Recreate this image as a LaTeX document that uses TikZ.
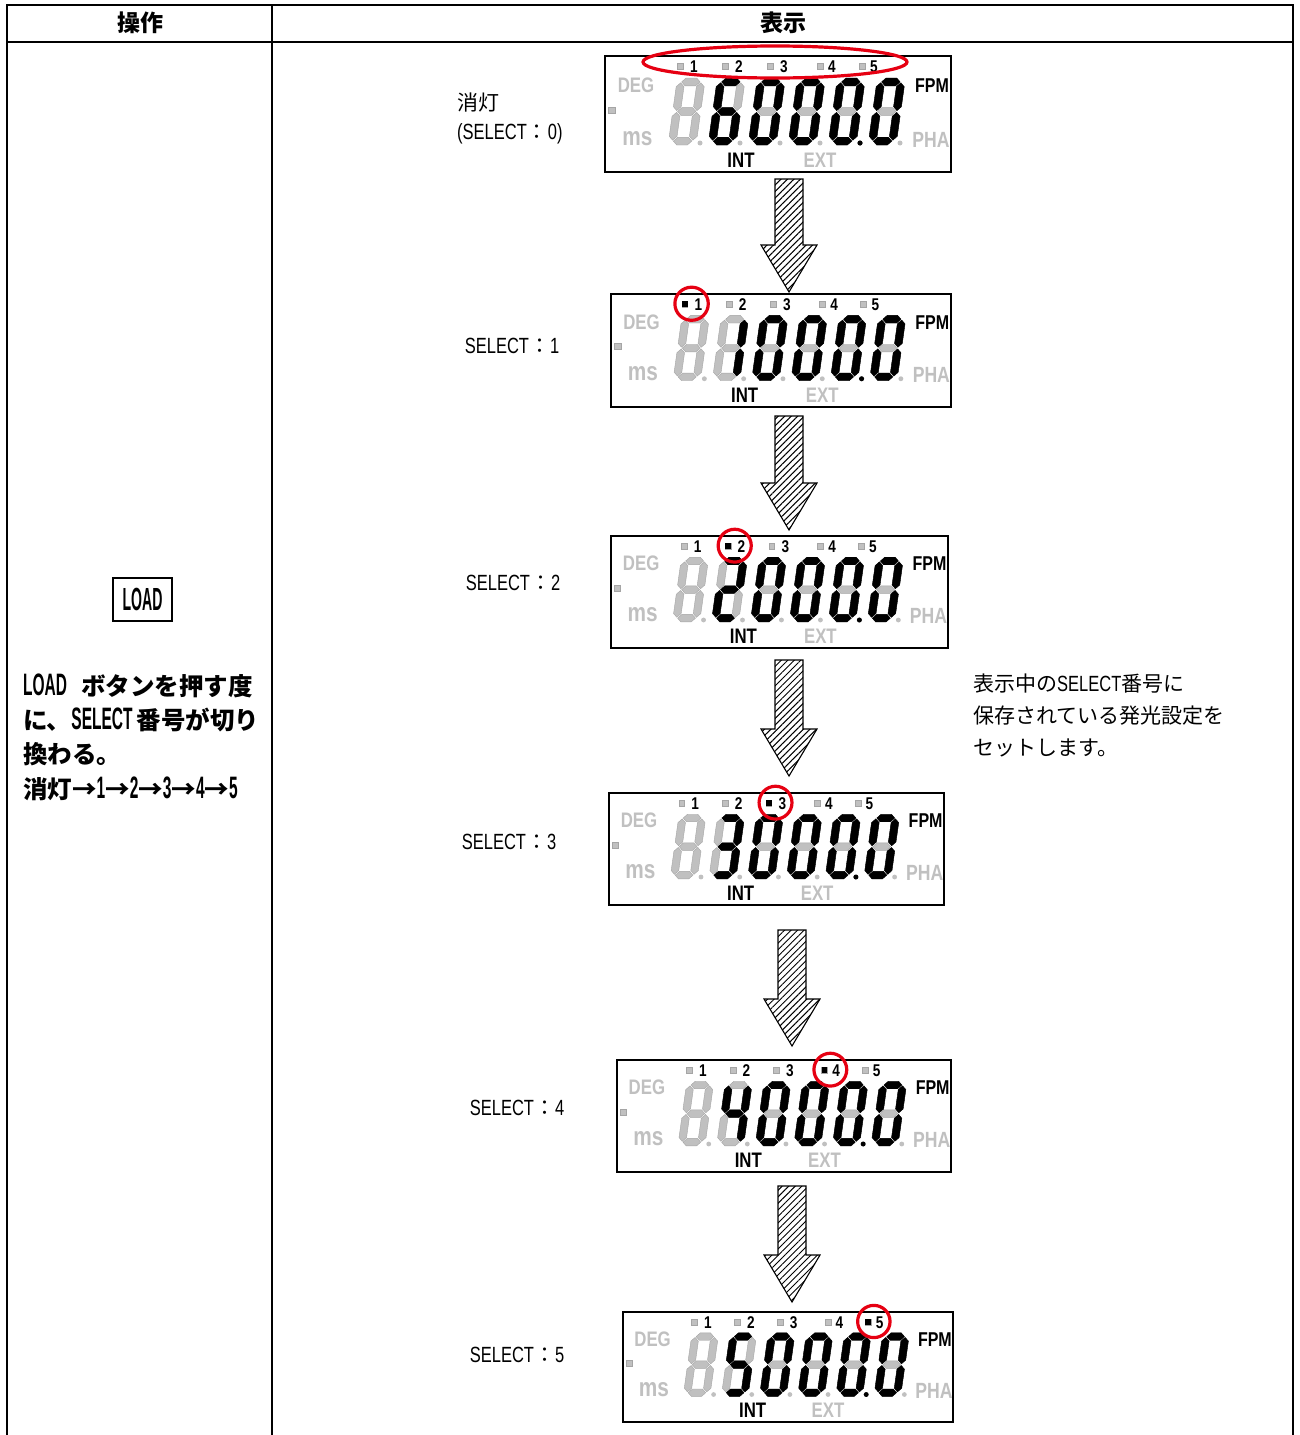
\documentclass[tikz,border=0pt]{standalone}
\usepackage{fontspec}
\usetikzlibrary{patterns.meta}
\newfontfamily\jp{Noto Sans CJK JP}
\newfontfamily\latr[FakeStretch=0.75]{Liberation Sans}
\newfontfamily\latb[FakeStretch=0.5]{Liberation Sans}
\newfontfamily\latbb[FakeStretch=0.44]{Liberation Sans}
\newfontfamily\lcdf[FakeStretch=0.8]{Liberation Sans}
\definecolor{lcdgray}{RGB}{192,192,192}
\definecolor{lcdgrayd}{RGB}{165,165,165}
\definecolor{lcdred}{RGB}{230,0,18}
\newcommand\LR[1]{{\latr\fontsize{22}{26}\selectfont #1}}
\newcommand\LB[1]{{\latb\bfseries\fontsize{31}{34}\selectfont #1}}
\def\sth{7.8}
\def\sgp{0.9}
\newcommand\lcdh[4]{\filldraw[#4] ({#1+\sgp},{#3}) -- ({#1+\sgp+\sth/2},{#3-\sth/2}) -- ({#2-\sgp-\sth/2},{#3-\sth/2}) -- ({#2-\sgp},{#3}) -- ({#2-\sgp-\sth/2},{#3+\sth/2}) -- ({#1+\sgp+\sth/2},{#3+\sth/2}) -- cycle;}
\newcommand\lcdv[4]{\filldraw[#4] ({#1},{#2+\sgp}) -- ({#1+\sth/2},{#2+\sgp+\sth/2}) -- ({#1+\sth/2},{#3-\sgp-\sth/2}) -- ({#1},{#3-\sgp}) -- ({#1-\sth/2},{#3-\sgp-\sth/2}) -- ({#1-\sth/2},{#2+\sgp+\sth/2}) -- cycle;}
\newcommand\lcdsega[1]{\lcdh{3.9}{24.1}{3.9}{#1}}
\newcommand\lcdsegb[1]{\lcdv{24.1}{3.9}{33.5}{#1}}
\newcommand\lcdsegc[1]{\lcdv{24.1}{33.5}{63.1}{#1}}
\newcommand\lcdsegd[1]{\lcdh{3.9}{24.1}{63.1}{#1}}
\newcommand\lcdsege[1]{\lcdv{3.9}{33.5}{63.1}{#1}}
\newcommand\lcdsegf[1]{\lcdv{3.9}{3.9}{33.5}{#1}}
\newcommand\lcdsegg[1]{\lcdh{3.9}{24.1}{33.5}{#1}}
\tikzset{
  segoff/.style={fill=lcdgray, draw=lcdgrayd, line width=0.4},
  segon/.style={fill=black, draw=black, line width=0.4},
  lcdlab/.style={inner sep=0, anchor=base, font=\lcdf\bfseries\fontsize{21}{21}\selectfont},
  lcdnum/.style={inner sep=0, font=\lcdf\bfseries\fontsize{17}{17}\selectfont},
  lab/.style={inner sep=0, font=\jp\fontsize{21}{25}\selectfont},
  blab/.style={inner sep=0, anchor=west, font=\jp\bfseries\fontsize{24.5}{28}\selectfont},
  hdr/.style={inner sep=0, font=\jp\bfseries\fontsize{23}{23}\selectfont},
  hatch/.style={pattern={Lines[angle=45,distance=4.6pt,line width=1pt]}, draw=black, line width=1.1},
  selring/.style={draw=lcdred, line width=3.2},
  tbl/.style={line width=2}
}
\newcommand\lcdon[2]{%
  \begin{scope}[shift={({72.4+40*#1},22)}, xslant=0.14]
    \foreach \s in {#2}{\csname lcdseg\s\endcsname{segon}}
  \end{scope}}
% #1 name, #2 x, #3 y, #4 w, #5 h, #6 on-segments of digit 1, #7 selected index
\newcommand\lcd[7]{%
\begin{scope}[shift={(#2,#3)}, xscale=#4/346, yscale=#5/116]
  \draw[line width=1.8] (0,0) rectangle (346,116);
  \coordinate (#1) at (173,58);
  \foreach \i in {0,...,5}{
    \begin{scope}[shift={({72.4+40*\i},22)}, xslant=0.14]
      \foreach \s in {a,b,c,d,e,f,g}{\csname lcdseg\s\endcsname{segoff}}
    \end{scope}}
  \lcdon{1}{#6}
  \foreach \i in {2,...,5}{\lcdon{\i}{a,b,c,d,e,f}}
  \foreach \i in {0,...,5}{\fill[lcdgray] ({95+40*\i},87) circle (2.5);}
  \fill[black] (255,87) circle (2.6);
  \filldraw[fill=lcdgray, draw=lcdgrayd, line width=0.5] (3,51) rectangle (10,57);
  \node[lcdlab, text=lcdgray] (#1deg) at (31,36) {DEG};
  \node[lcdlab, text=lcdgray, font=\lcdf\bfseries\fontsize{26}{26}\selectfont] (#1ms) at (32.5,89) {ms};
  \node[lcdlab, font=\lcdf\bfseries\fontsize{20}{20}\selectfont] (#1fpm) at (327,36) {FPM};
  \node[lcdlab, text=lcdgray, font=\lcdf\bfseries\fontsize{22}{22}\selectfont] (#1pha) at (326,91) {PHA};
  \node[lcdlab] (#1int) at (136,111) {INT};
  \node[lcdlab, text=lcdgray] (#1ext) at (215,111) {EXT};
  \foreach \n/\sx/\nx in {1/75/89, 2/120/134, 3/165/179, 4/215/227, 5/257/269}{
    \filldraw[fill=lcdgray, draw=lcdgrayd, line width=0.4] ({\sx-3},7.5) rectangle ({\sx+3},13.5);
    \node[lcdnum] (#1n\n) at (\nx,11) {\n};
  }
  \ifnum#7>0
    \pgfmathsetmacro\selx{{75,120,165,215,257}[#7-1]}
    \pgfmathsetmacro\selc{{82,127,172,221,263}[#7-1]}
    \fill[black] ({\selx-3},7.5) rectangle ({\selx+3},13.5);
    \draw[selring] (\selc,10) circle (17);
  \fi
\end{scope}}
\newcommand\barrow[3]{\draw[hatch] ({#1-14},#2) -- ({#1+14},#2) -- ({#1+14},{#3-47}) -- ({#1+28},{#3-47}) -- (#1,#3) -- ({#1-28},{#3-47}) -- ({#1-14},{#3-47}) -- cycle;}

\begin{document}
\begin{tikzpicture}[x=1pt,y=-1pt]
\useasboundingbox (0,0) rectangle (1299,1435);
\fill[white] (0,0) rectangle (1299,1435);
% table
\draw[tbl] (7,5) -- (1293,5);
\draw[tbl] (7,42) -- (1293,42);
\draw[tbl] (7,4) -- (7,1436);
\draw[tbl] (272,4) -- (272,1436);
\draw[tbl] (1293,4) -- (1293,1436);
\node[hdr] (h1) at (140,23) {操作};
\node[hdr] (h2) at (783,23) {表示};
% left column
\node[draw, line width=1.5, minimum width=59, minimum height=43, inner sep=0, font=\latbb\bfseries\fontsize{32}{32}\selectfont] (load) at (142.5,599.5) {LOAD};
\node[blab] (l1) at (23,686) {\LB{LOAD}\hspace{14pt}ボタンを押す度};
\node[blab] (l2) at (23,720) {に、\LB{SELECT}\hspace{4pt}番号が切り};
\node[blab] (l3) at (23,754) {換わる。};
\node[blab] (l4) at (23,789) {消灯→\LB{1}→\LB{2}→\LB{3}→\LB{4}→\LB{5}};
% displays
\lcd{d1}{605}{56}{346}{116}{a,c,d,e,f,g}{0}
\lcd{d2}{611}{294}{340}{113}{b,c}{1}
\lcd{d3}{611}{536}{337}{112}{a,b,g,e,d}{2}
\lcd{d4}{609}{793}{335}{112}{a,b,g,c,d}{3}
\lcd{d5}{617}{1060}{334}{112}{b,c,f,g}{4}
\lcd{d6}{623}{1312}{330}{110}{a,f,g,c,d}{5}
\draw[selring] (775,62) ellipse [x radius=132, y radius=16];
% arrows
\barrow{789}{179}{292}
\barrow{789}{416}{530}
\barrow{789}{660}{776}
\barrow{792}{930}{1046}
\barrow{792}{1186}{1302}
% labels
\node[lab, anchor=west] (s0a) at (457,103) {消灯};
\node[lab, anchor=west] (s0b) at (457,134) {\LR{(SELECT}：\LR{0)}};
\node[lab] (s1) at (512,346) {\LR{SELECT}：\LR{1}};
\node[lab] (s2) at (513,583) {\LR{SELECT}：\LR{2}};
\node[lab] (s3) at (509,842) {\LR{SELECT}：\LR{3}};
\node[lab] (s4) at (517,1108) {\LR{SELECT}：\LR{4}};
\node[lab] (s5) at (517,1355) {\LR{SELECT}：\LR{5}};
\node[lab, anchor=west] (r1) at (973,684) {表示中の\LR{SELECT}番号に};
\node[lab, anchor=west] (r2) at (973,716) {保存されている発光設定を};
\node[lab, anchor=west] (r3) at (973,748) {セットします。};
\end{tikzpicture}
\end{document}
